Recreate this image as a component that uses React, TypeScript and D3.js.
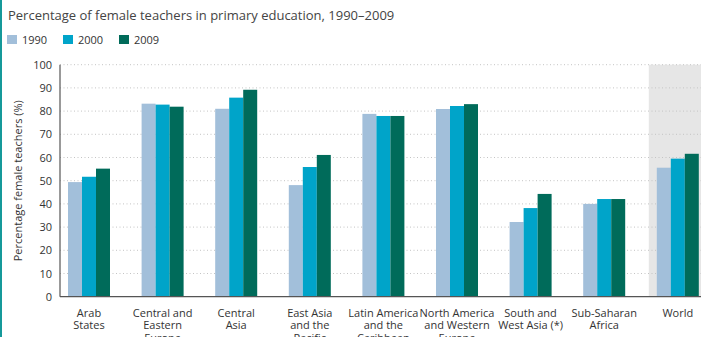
import React from "react";
import * as d3 from "d3";

const categories = [
  ["Arab", "States"],
  ["Central and", "Eastern", "Europe"],
  ["Central", "Asia"],
  ["East Asia", "and the", "Pacific"],
  ["Latin America", "and the", "Caribbean"],
  ["North America", "and Western", "Europe"],
  ["South and", "West Asia (*)"],
  ["Sub-Saharan", "Africa"],
  ["World"],
];
const categoryKeys = categories.map((c) => c.join(" "));
const seriesNames = ["1990", "2000", "2009"];
const values1990 = [49.4, 83.2, 81.0, 48.1, 78.8, 80.9, 32.2, 40.0, 55.6];
const values2000 = [51.7, 82.8, 85.8, 55.9, 77.9, 82.2, 38.2, 42.1, 59.5];
const values2009 = [55.2, 81.9, 89.2, 61.1, 77.9, 83.0, 44.3, 42.1, 61.6];
const seriesValues = [values1990, values2000, values2009];
const colors = ["#a2bfda", "#00a4c9", "#006b5a"];
const yTicks = [0, 10, 20, 30, 40, 50, 60, 70, 80, 90, 100];

const W = 701;
const H = 337;
const FONT = "'Open Sans', 'Noto Sans', sans-serif";

export default function App() {
  const axisX = 60;
  const y = d3.scaleLinear().domain([0, 100]).range([296.7, 64.7]);
  const x0 = d3.scaleBand().domain(categoryKeys).range([52.2, 52.2 + 73.6 * 9]).padding(0);
  const groupW = 42;
  const x1 = d3.scaleBand().domain(seriesNames).range([0, groupW]).padding(0);
  const off = (x0.bandwidth() - groupW) / 2;
  const worldX = (x0("World") as number) + off - 8;

  return (
    <svg width={W} height={H} style={{ position: "absolute", left: 0, top: 0, background: "#fff" }} fontFamily={FONT}>
      <rect x={0} y={0} width={2} height={H} fill="#15999a" />
      <text x={8} y={20} fontSize={13} fill="#444">
        Percentage of female teachers in primary education, 1990–2009
      </text>
      {seriesNames.map((s, i) => (
        <g key={s} transform={`translate(${7 + i * 56},35)`}>
          <rect x={0} y={0} width={10} height={9} fill={colors[i]} />
          <text x={15} y={9} fontSize={11} fill="#333">{s}</text>
        </g>
      ))}
      <rect x={worldX} y={y(100)} width={W - worldX} height={y(0) - y(100)} fill="#e6e6e6" />
      {yTicks.filter((t) => t > 0).map((t) => (
        <line key={t} x1={axisX} x2={W} y1={y(t)} y2={y(t)} stroke="#c4c4c4" strokeWidth={1} strokeDasharray="1,2.5" />
      ))}
      {categoryKeys.map((c, ci) => (
        <g key={c} transform={`translate(${(x0(c) as number) + off},0)`}>
          {seriesNames.map((s, si) => (
            <rect key={s} x={x1(s)} y={y(seriesValues[si][ci])} width={x1.bandwidth()} height={y(0) - y(seriesValues[si][ci])} fill={colors[si]} />
          ))}
        </g>
      ))}
      <line x1={axisX} x2={axisX} y1={y(100)} y2={y(0)} stroke="#555" strokeWidth={1.2} />
      <line x1={axisX} x2={W} y1={y(0)} y2={y(0)} stroke="#555" strokeWidth={1.2} />
      {yTicks.map((t) => (
        <text key={t} x={52} y={y(t) + 4} fontSize={11} textAnchor="end" fill="#333">{t}</text>
      ))}
      <text transform={`translate(22,${(y(0) + y(100)) / 2}) rotate(-90)`} fontSize={11} textAnchor="middle" fill="#333">
        Percentage female teachers (%)
      </text>
      {categories.map((lines, ci) => (
        <text key={ci} x={(x0(categoryKeys[ci]) as number) + x0.bandwidth() / 2} y={317} fontSize={11} textAnchor="middle" fill="#333">
          {lines.map((l, li) => (
            <tspan key={li} x={(x0(categoryKeys[ci]) as number) + x0.bandwidth() / 2} dy={li === 0 ? 0 : 12.3}>{l}</tspan>
          ))}
        </text>
      ))}
    </svg>
  );
}
